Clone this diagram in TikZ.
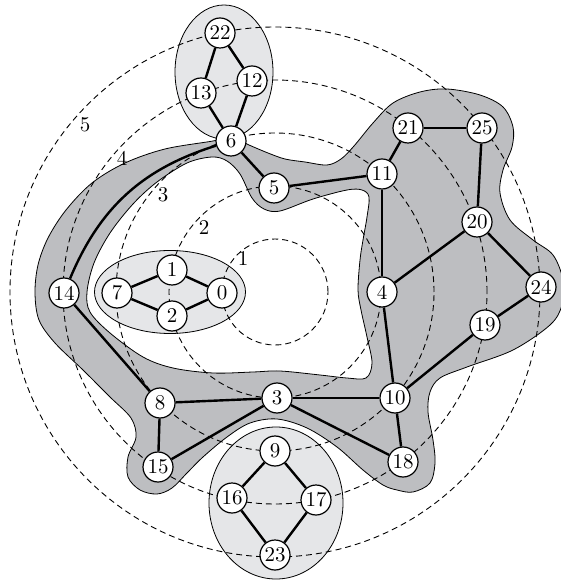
\documentclass[tikz,border=0pt]{standalone}
\pgfdeclarelayer{bg}\pgfdeclarelayer{mid}
\pgfsetlayers{bg,mid,main}
\definecolor{blobgray}{RGB}{189,190,193}
\definecolor{lightgray2}{RGB}{229,230,232}
\begin{document}
\begin{tikzpicture}[x=0.5pt,y=-0.5pt,
  vtx/.style={circle,draw,line width=0.6pt,fill=white,minimum size=15pt,inner sep=0pt,font=\fontsize{10.5}{12}\selectfont},
  edge/.style={line width=1.2pt},
  ring/.style={dash pattern=on 3pt off 2pt, line width=0.45pt},
  ringlabel/.style={font=\fontsize{10.5}{12}\selectfont,inner sep=0pt},
  region/.style={draw,line width=0.4pt}]
\useasboundingbox (0,0) rectangle (560,581);
% nodes
\node[vtx] (n0) at (222,293) {0};
\node[vtx] (n1) at (172,270) {1};
\node[vtx] (n2) at (172,316) {2};
\node[vtx] (n3) at (277,398) {3};
\node[vtx] (n4) at (382,292) {4};
\node[vtx] (n5) at (274,188) {5};
\node[vtx] (n6) at (231,141) {6};
\node[vtx] (n7) at (117,293) {7};
\node[vtx] (n8) at (160,403) {8};
\node[vtx] (n9) at (275,451) {9};
\node[vtx] (n10) at (395,398) {10};
\node[vtx] (n11) at (382,174) {11};
\node[vtx] (n12) at (252,81) {12};
\node[vtx] (n13) at (201,93) {13};
\node[vtx] (n14) at (64,293) {14};
\node[vtx] (n15) at (158,467) {15};
\node[vtx] (n16) at (232,498) {16};
\node[vtx] (n17) at (316,500) {17};
\node[vtx] (n18) at (403,462) {18};
\node[vtx] (n19) at (485,325) {19};
\node[vtx] (n20) at (477,222) {20};
\node[vtx] (n21) at (408,128) {21};
\node[vtx] (n22) at (220,33) {22};
\node[vtx] (n23) at (275,555) {23};
\node[vtx] (n24) at (541,287) {24};
\node[vtx] (n25) at (482,128) {25};
% ring labels
\node[ringlabel] (l1) at (243,259) {1};
\node[ringlabel] (l2) at (204,228) {2};
\node[ringlabel] (l3) at (163,195) {3};
\node[ringlabel] (l4) at (122,158) {4};
\node[ringlabel] (l5) at (85,125) {5};
\begin{pgfonlayer}{bg}
\path[region,fill=blobgray,even odd rule]
  plot[smooth cycle,tension=0.55] coordinates {(35,293) (38,265) (48,238) (66,210) (92,183) (125,163) (165,149) (213,141) (231,137) (249,145) (268,153) (285,159) (305,162) (327,165) (341,159) (354,146) (373,123) (393,103) (420,92) (447,89) (480,95) (503,107) (513,127) (512,147) (503,170) (500,193) (510,220) (533,240) (553,255) (563,280) (562,305) (550,325) (513,350) (467,367) (440,378) (430,392) (428,412) (433,440) (435,463) (430,483) (413,492) (397,490) (383,485) (363,470) (337,447) (307,428) (277,419) (250,423) (227,437) (203,457) (187,473) (172,488) (157,494) (140,490) (128,477) (128,457) (136,437) (131,418) (110,397) (83,370) (55,343) (39,320)}
  plot[smooth cycle,tension=0.55] coordinates {(87,292) (90,312) (110,333) (143,357) (173,368) (213,373) (253,372) (280,371) (320,375) (347,378) (366,378) (372,363) (367,337) (361,310) (358,290) (360,260) (363,240) (367,217) (369,197) (362,190) (347,190) (313,199) (280,211) (264,209) (252,198) (240,174) (227,161) (212,157) (187,163) (157,182) (133,204) (110,233) (94,263)};
\path[region,fill=lightgray2] (170,292) ellipse[x radius=37.75pt,y radius=20.75pt];
\path[region,fill=lightgray2] (224,72) ellipse[x radius=24.5pt,y radius=33.5pt];
\path[region,fill=lightgray2] (276,503) ellipse[x radius=33.5pt,y radius=38pt];
\foreach \r in {26.5,53,79.5,106,132.5}
  \draw[ring] (275,292) circle[radius=\r pt];
\end{pgfonlayer}
\begin{pgfonlayer}{mid}
\draw[edge] (n22) -- (n13);
\draw[edge] (n22) -- (n12);
\draw[edge] (n13) -- (n6);
\draw[edge] (n12) -- (n6);
\draw[edge] (n7) -- (n1);
\draw[edge] (n7) -- (n2);
\draw[edge] (n1) -- (n0);
\draw[edge] (n2) -- (n0);
\draw[edge] (n9) -- (n16);
\draw[edge] (n9) -- (n17);
\draw[edge] (n16) -- (n23);
\draw[edge] (n17) -- (n23);
\draw[edge] (n14) to[bend left=25] (n6);
\draw[edge] (n14) -- (n8);
\draw[edge] (n8) -- (n3);
\draw[edge] (n8) -- (n15);
\draw[edge] (n15) -- (n3);
\draw[edge] (n3) -- (n10);
\draw[edge] (n3) -- (n18);
\draw[edge] (n10) -- (n18);
\draw[edge] (n10) -- (n4);
\draw[edge] (n10) -- (n19);
\draw[edge] (n4) -- (n11);
\draw[edge] (n4) -- (n20);
\draw[edge] (n11) -- (n5);
\draw[edge] (n11) -- (n21);
\draw[edge] (n5) -- (n6);
\draw[edge] (n21) -- (n25);
\draw[edge] (n25) -- (n20);
\draw[edge] (n20) -- (n24);
\draw[edge] (n24) -- (n19);
\end{pgfonlayer}
\end{tikzpicture}
\end{document}
